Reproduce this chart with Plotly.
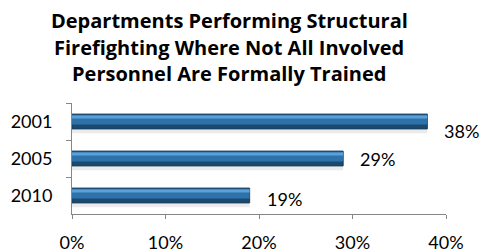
import plotly.graph_objects as go

years = ["2001", "2005", "2010"]
values = [38, 29, 19]
x_ticks = [0, 10, 20, 30, 40]
x_tick_labels = ["0%", "10%", "20%", "30%", "40%"]
title_lines = ["Departments Performing Structural",
               "Firefighting Where Not All Involved",
               "Personnel Are Formally Trained"]

FONT = "Lato"
TITLE_FONT = "Open Sans"
W, H = 482, 250
ML, MR, MT, MB = 72, 36, 103, 36
PW, PH = W - ML - MR, H - MT - MB

fig = go.Figure()

# shadow
fig.add_trace(go.Bar(y=years, x=values, orientation="h", width=0.48, offset=-0.16,
                     marker=dict(color="rgba(0,0,0,0.08)", line=dict(width=0)),
                     hoverinfo="skip", showlegend=False))
# base (dark)
fig.add_trace(go.Bar(y=years, x=values, orientation="h", width=0.40, offset=-0.20,
                     marker=dict(color="#1C4A6E", line=dict(color="#163D5C", width=1)),
                     showlegend=False))
# middle
fig.add_trace(go.Bar(y=years, x=values, orientation="h", width=0.26, offset=-0.18,
                     marker=dict(color="#2D72AA", line=dict(width=0)),
                     hoverinfo="skip", showlegend=False))
# highlight
fig.add_trace(go.Bar(y=years, x=values, orientation="h", width=0.08, offset=-0.16,
                     marker=dict(color="#5BA0D6", line=dict(width=0)),
                     hoverinfo="skip", showlegend=False))

label_yshift = [-9, 0, -3]
for i, (v, ys) in enumerate(zip(values, label_yshift)):
    fig.add_annotation(x=v, y=i, text=f"{v}%", showarrow=False, xanchor="left",
                       xshift=15, yshift=ys, font=dict(family=FONT, size=18, color="#000"))

title_y_px = [20, 47, 73]
for line, ypx in zip(title_lines, title_y_px):
    fig.add_annotation(text="<b>" + line + "</b>", xref="paper", yref="paper",
                       x=(229 - ML) / PW, xanchor="center",
                       y=1 + (MT - ypx) / PH, yanchor="middle", showarrow=False,
                       font=dict(family=TITLE_FONT, size=20, color="#000"))

fig.update_layout(
    width=W, height=H,
    margin=dict(l=ML, r=MR, t=MT, b=MB),
    paper_bgcolor="white", plot_bgcolor="white",
    barmode="overlay",
    font=dict(family=FONT, size=18, color="#000"),
)
fig.update_xaxes(range=[0, 40], tickvals=x_ticks, ticktext=x_tick_labels, automargin=False,
                 showgrid=False, zeroline=False, showline=True, linecolor="#868686", linewidth=1,
                 ticks="outside", ticklen=4, tickcolor="#868686", ticklabelstandoff=8)
fig.update_yaxes(type="category", categoryorder="array", categoryarray=years, automargin=False,
                 range=[2.5, -0.5], autorange=False,
                 showgrid=False, zeroline=False, showline=True, linecolor="#868686", linewidth=1,
                 ticks="outside", ticklen=5, tickcolor="#868686", tickson="boundaries",
                 ticklabelstandoff=15)

fig.write_html("out.html", config={"displayModeBar": False},
               post_script="document.body.style.margin='0';document.body.style.overflow='hidden';")
